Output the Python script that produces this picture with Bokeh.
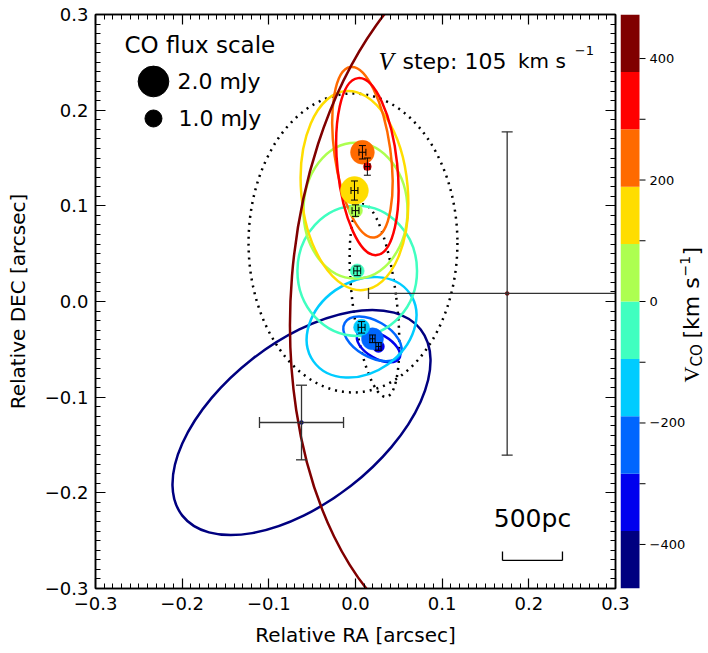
import numpy as np
from bokeh.plotting import figure
from bokeh.layouts import row
from bokeh.models import (ColumnDataSource, LinearAxis, FixedTicker,
                          CustomJSTickFormatter, Range1d)
from bokeh.core.properties import value
from bokeh.embed import file_html
from bokeh.resources import INLINE

# ---------------- data ----------------
# velocity channels, from lowest to highest velocity
v_low, v_high = -472.5, 472.5
palette = ["#000080", "#0000EE", "#0066FF", "#00CCFF", "#40FFC0",
           "#ADFF50", "#FFDD00", "#FF6A00", "#FF0000", "#800000"]
ra = [-0.0623, 0.0265, 0.0196, 0.0070, 0.0020, 0.0000, -0.0012, 0.0080, 0.0137, 0.1750]
dec = [-0.1265, -0.0470, -0.0390, -0.0270, 0.0320, 0.0950, 0.1160, 0.1560, 0.1410, 0.0084]
ra_err = [0.0485, 0.0030, 0.0030, 0.0040, 0.0040, 0.0040, 0.0040, 0.0040, 0.0030, 0.1600]
dec_err = [0.0390, 0.0040, 0.0040, 0.0060, 0.0050, 0.0060, 0.0100, 0.0070, 0.0090, 0.1690]
flux_mjy = [0.05, 0.63, 1.36, 0.93, 0.78, 0.78, 1.80, 1.50, 0.34, 0.05]
# fitted source ellipses (axes in arcsec, angle in degrees)
ell_w = [0.349, 0.0554, 0.0738, 0.136, 0.138, 0.120, 0.123, 0.0646, 0.069, 0.4982]
ell_h = [0.168, 0.0251, 0.0376, 0.095, 0.136, 0.142, 0.209, 0.180, 0.186, 0.7582]
ell_pa = [38, -30, -30, 35, 0, 0, 5, 8, 6, -4.7]

# dotted reference ellipses
dot_ra = [-0.0029, 0.0219]
dot_dec = [0.0612, 0.0010]
dot_w = [0.241, 0.0508]
dot_h = [0.3125, 0.203]
dot_pa = [0, 7]

legend_flux = [2.0, 1.0]
legend_labels = ["2.0 mJy", "1.0 mJy"]
scalebar_arcsec = 0.0692
xy_ticks = [-0.3, -0.2, -0.1, 0.0, 0.1, 0.2, 0.3]
cbar_ticks = [-400, -200, 0, 200, 400]
cbar_minor = [-300, -100, 100, 300]


def msize(f):
    return 13.7 * f + 3.3


FONT = "DejaVu Sans"
TOP, BOTTOM = 14, 60
RB = 17      # right border of the main panel (room for the "0.3" label)
OVL = 12     # colour-bar panel overlaps that border by this much

# ---------------- main figure ----------------
p = figure(frame_width=520, frame_height=574,
           x_range=Range1d(-0.3, 0.3), y_range=Range1d(-0.3, 0.3),
           output_backend="svg", toolbar_location=None,
           min_border_left=95, min_border_right=RB, min_border_top=TOP,
           min_border_bottom=BOTTOM)
p.xgrid.visible = False
p.ygrid.visible = False
p.outline_line_color = "black"
p.outline_line_width = 1.5

minor = [round(v, 2) for v in np.arange(-0.30, 0.3001, 0.01)]
fmt = CustomJSTickFormatter(code="""
var s = Math.abs(tick) < 1e-9 ? '0.0' : tick.toFixed(1);
return s.replace('-', '\u2212');
""")
blank = CustomJSTickFormatter(code="return '';")

ax_b = p.xaxis[0]
ax_l = p.yaxis[0]
ax_t = LinearAxis()
ax_r = LinearAxis()
p.add_layout(ax_t, "above")
p.add_layout(ax_r, "right")
for ax in (ax_b, ax_l, ax_t, ax_r):
    ax.ticker = FixedTicker(ticks=xy_ticks, minor_ticks=minor)
    ax.formatter = fmt
    ax.major_tick_in = 10
    ax.major_tick_out = 0
    ax.minor_tick_in = 5
    ax.minor_tick_out = 0
    ax.axis_line_color = "black"
    ax.axis_line_width = 1.5
    ax.major_tick_line_width = 1.2
    ax.minor_tick_line_width = 1.0
    ax.major_label_text_font = FONT
    ax.major_label_text_font_size = "18px"
    ax.major_label_text_color = "black"
    ax.axis_label_text_font = FONT
    ax.axis_label_text_font_size = "20px"
    ax.axis_label_text_font_style = "normal"
    ax.axis_label_text_color = "black"
for ax in (ax_t, ax_r):
    ax.formatter = blank
    ax.major_label_standoff = 0
ax_b.axis_label = "Relative RA [arcsec]"
ax_l.axis_label = "Relative DEC [arcsec]"
ax_b.major_label_standoff = 8
ax_l.major_label_standoff = 7
ax_b.axis_label_standoff = 10
ax_l.axis_label_standoff = 12

# dotted ellipses
p.ellipse(x=dot_ra, y=dot_dec, width=dot_w, height=dot_h,
          angle=[np.deg2rad(a) for a in dot_pa], fill_alpha=0,
          line_color="black", line_width=2.5, line_dash="2 5")

# channel ellipses
src = ColumnDataSource(dict(
    ra=ra, dec=dec, w=ell_w, h=ell_h,
    ang=[np.deg2rad(a) for a in ell_pa], color=palette,
    size=[msize(f) for f in flux_mjy],
))
p.ellipse(x="ra", y="dec", width="w", height="h", angle="ang", source=src,
          fill_alpha=0, line_color="color", line_width=2.5)

# flux-scaled markers
p.scatter(x="ra", y="dec", size="size", source=src, fill_color="color",
          line_color="color", line_width=0.5)

# error bars
big = [i for i, e in enumerate(ra_err) if e > 0.02]
small = [i for i, e in enumerate(ra_err) if e <= 0.02]
for idx, col, lw, cap in ((big, "#333333", 1.3, 11), (small, "black", 1.0, 7)):
    xs = [ra[i] for i in idx]
    ys = [dec[i] for i in idx]
    x0 = [ra[i] - ra_err[i] for i in idx]
    x1 = [ra[i] + ra_err[i] for i in idx]
    y0 = [dec[i] - dec_err[i] for i in idx]
    y1 = [dec[i] + dec_err[i] for i in idx]
    p.segment(x0=x0, y0=ys, x1=x1, y1=ys, line_color=col, line_width=lw)
    p.segment(x0=xs, y0=y0, x1=xs, y1=y1, line_color=col, line_width=lw)
    p.scatter(x=x0 + x1, y=ys + ys, marker="dash", size=cap, angle=np.pi / 2,
              line_color=col, line_width=lw)
    p.scatter(x=xs + xs, y=y0 + y1, marker="dash", size=cap,
              line_color=col, line_width=lw)

# flux legend
p.text(x=[-0.2665], y=[0.2676], text=["CO flux scale"], text_font=value(FONT),
       text_font_size="23px", text_baseline="middle", text_align="left", text_color="black")
p.scatter(x=[-0.2331, -0.2331], y=[0.2300, 0.1913],
          size=[msize(f) for f in legend_flux], color="black")
p.text(x=[-0.2054, -0.2043], y=[0.2300, 0.1913], text=legend_labels,
       text_font=value(FONT), text_font_size="22px", text_baseline="middle",
       text_align="left", text_color="black")

# velocity step annotation
p.text(x=[0.0265], y=[0.2509], text=["V"], text_font=value("Liberation Serif"),
       text_font_style="italic", text_font_size="25px", text_baseline="alphabetic",
       text_color="black")
p.text(x=[0.0542], y=[0.2509], text=["step: 105"], text_font=value(FONT),
       text_font_size="22px", text_baseline="alphabetic", text_color="black")
p.text(x=[0.1875], y=[0.2509], text=["km s"], text_font=value(FONT),
       text_font_size="20px", text_baseline="alphabetic", text_color="black")
p.text(x=[0.2530], y=[0.2625], text=["\u22121"], text_font=value(FONT),
       text_font_size="13px", text_baseline="alphabetic", text_color="black")

# scale bar
sb_x0 = 0.1696
sb_x1 = sb_x0 + scalebar_arcsec
p.segment(x0=[sb_x0], y0=[-0.2707], x1=[sb_x1], y1=[-0.2707], line_color="black", line_width=1.3)
p.segment(x0=[sb_x0, sb_x1], y0=[-0.2707, -0.2707], x1=[sb_x0, sb_x1], y1=[-0.2613, -0.2613],
          line_color="black", line_width=1.3)
p.text(x=[(sb_x0 + sb_x1) / 2], y=[-0.2268], text=["500pc"], text_font=value(FONT),
       text_font_size="25px", text_align="center", text_baseline="alphabetic",
       text_color="black")

# ---------------- colour bar (own panel, 1 x-unit = 1 px) ----------------
c = figure(frame_width=86, frame_height=574, x_range=Range1d(0, 86),
           y_range=Range1d(v_low, v_high),
           output_backend="svg", toolbar_location=None,
           min_border_left=0, min_border_right=0, min_border_top=TOP,
           min_border_bottom=BOTTOM, x_axis_location=None, y_axis_location=None)
c.grid.visible = False
c.outline_line_color = None
c.background_fill_alpha = 0
c.border_fill_alpha = 0
c.styles = {"margin-left": "-%dpx" % OVL}

edges = np.linspace(v_low, v_high, len(palette) + 1)
c.quad(left=0, right=19, bottom=edges[:-1], top=edges[1:], fill_color=palette,
       line_color=None)
all_ticks = cbar_ticks + cbar_minor
c.segment(x0=[19] * len(all_ticks), x1=[25] * len(all_ticks), y0=all_ticks,
          y1=all_ticks, line_color="black", line_width=1)
c.text(x=[29] * len(cbar_ticks), y=cbar_ticks,
       text=[str(v).replace("-", "\u2212") for v in cbar_ticks],
       text_font=value(FONT), text_font_size="13px", text_baseline="middle",
       text_align="left", text_color="black")


def vpx(py):
    # page pixel row -> colour-bar data value
    return v_high - (py - TOP) / 574 * (v_high - v_low)


for txt, py, xx, fs, fnt in (("V", 382, 71, "22px", "Liberation Serif"),
                             ("CO", 366, 76, "15px", FONT),
                             ("[km s", 338, 71, "22px", FONT),
                             ("\u22121", 276, 64, "14px", FONT),
                             ("]", 255, 71, "22px", FONT)):
    c.text(x=[xx], y=[vpx(py)], text=[txt], angle=np.pi / 2,
           text_font=value(fnt), text_font_size=fs, text_baseline="middle",
           text_align="left", text_color="black")

open("out.html", "w").write(file_html(row(p, c), INLINE))
